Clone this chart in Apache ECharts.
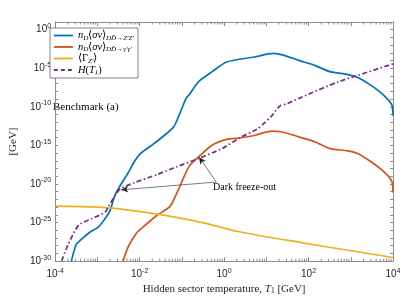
<!DOCTYPE html>
<html><head><meta charset="utf-8">
<script src="https://cdn.jsdelivr.net/npm/echarts@6/dist/echarts.min.js"></script>
<style>html,body{margin:0;padding:0;background:#fff}#c{width:407px;height:300px}</style>
</head><body><div id="c"></div>
<script>
// values are log10 of temperature T1 [GeV] and log10 of the quantity [GeV]
const zzLogT    = [-3.616,-3.501,-3.386,-3.195,-2.966,-2.811,-2.697,-2.62,-2.552,-2.437,-2.276,-2.122,-1.977,-1.662,-1.202,-1.057,-0.897,-0.828,-0.598,-0.283,0.062,0.713,1.172,1.402,1.786,2.161,2.506,2.936,3.166,3.471,3.77,3.97,4.0];
const zzLogRate = [-30,-27.85,-27.22,-26.33,-25.53,-24.43,-23.42,-22.03,-21.1,-20.0,-18.6,-17.09,-16.04,-14.77,-12.66,-10.97,-8.86,-8.44,-6.71,-5.44,-4.18,-3.54,-3.08,-3.29,-4.01,-4.65,-5.44,-5.82,-6.2,-7.18,-8.44,-9.71,-11.14];
const ggLogT    = [-2.391,-2.276,-2.085,-1.862,-1.586,-1.28,-1.126,-1.011,-0.828,-0.598,-0.283,0.062,0.407,0.713,1.133,1.402,1.786,2.161,2.506,2.936,3.166,3.471,3.77,3.97,4.0];
const ggLogRate = [-30,-28.23,-26.46,-25.32,-24.05,-22.91,-21.27,-19.84,-17.72,-16.46,-14.97,-14.22,-14.01,-13.71,-13.16,-13.29,-13.92,-14.56,-15.41,-15.70,-16.04,-17.09,-18.35,-19.62,-21.1];
const gamLogT   = [-4,-2.966,-2.207,-1.432,-0.437,0.322,1.862,4.0];
const gamLogVal = [-22.87,-23.0,-23.42,-24.05,-25.1,-26.16,-27.63,-29.53];
const hLogT     = [-3.846,-3.694,-3.54,-3.425,-3.12,-2.811,-2.736,-2.582,-2.467,-2.122,-1.586,-1.126,-0.591,-0.053,0.407,0.789,0.943,1.133,1.326,1.48,1.786,2.706,3.166,4.0];
const hLogVal   = [-29.96,-27.85,-26.16,-25.23,-24.47,-23.63,-22.91,-21.52,-20.67,-19.84,-18.77,-17.78,-16.67,-15.41,-13.92,-12.87,-12.15,-11.14,-9.87,-9.62,-8.86,-6.75,-5.91,-4.43];
// annotation: arrow tail and arrow tips (log10 T, log10 value)
const annoStart = [-0.184, -19.75];
const annoTips  = [[-2.437, -20.76], [-0.591, -16.52]];
const xDecades = [-4,-3,-2,-1,0,1,2,3];
const minorMult = [2,3,4,5,6,7,8,9];

const seriesNames = ['zz','gg','gam','hub'];
const toData = (t, v) => t.map((x, i) => [x, v[i]]);
const minorTickPos = [];
xDecades.forEach(d => minorMult.forEach(m => minorTickPos.push([d + Math.log10(m), 0])));

const serif = 'Liberation Serif';
const sans = 'Liberation Sans';
const supRich = {
  b: {fontSize: 10, fontFamily: sans, color: '#262626', lineHeight: 14},
  s: {fontSize: 7, fontFamily: sans, color: '#262626', lineHeight: 8, verticalAlign: 'top'}
};
const axisColor = '#8c8c8c';

const legendRich = {
  i: {fontFamily: serif, fontStyle: 'italic', fontSize: 10.5, color: '#000', lineHeight: 12},
  n: {fontFamily: serif, fontSize: 10.5, color: '#000', lineHeight: 12},
  s: {fontFamily: serif, fontStyle: 'italic', fontSize: 7, color: '#000', lineHeight: 6, verticalAlign: 'bottom'}
};
const legendText = {
  zz: '{i|n}{s|D}{n|⟨}{i|σv}{n|⟩}{s|DD̄→Z′Z′}',
  gg: '{i|n}{s|D}{n|⟨}{i|σv}{n|⟩}{s|DD̄→γ′γ′}',
  gam: '{n|⟨Γ}{s|Z′}{n|⟩}',
  hub: '{i|H}{n|(}{i|T}{s|1}{n|)}'
};

const mkX = (pos, labels) => ({
  type: 'value', min: -4, max: 4, interval: 1, position: pos,
  axisLine: {show: true, onZero: false, lineStyle: {color: axisColor, width: 1}},
  axisTick: {show: true, inside: true, length: 4, lineStyle: {color: axisColor}},
  splitLine: {show: false},
  axisLabel: {show: labels, margin: 6, formatter: e => (e % 2 === 0 ? '{b|10}{s|' + e + '}' : ''), rich: supRich},
  name: labels ? '{n|Hidden sector temperature, }{i|T}{s|1}{n| [GeV]}' : '',
  nameLocation: 'middle', nameGap: 19,
  nameTextStyle: {rich: {
    n: {fontFamily: serif, fontSize: 11, color: '#262626'},
    i: {fontFamily: serif, fontSize: 11, fontStyle: 'italic', color: '#262626'},
    s: {fontFamily: serif, fontSize: 7.5, color: '#262626', verticalAlign: 'bottom', lineHeight: 6}
  }}
});
const mkY = (pos, labels) => ({
  type: 'value', min: -30, max: 1, interval: 1, position: pos,
  axisLine: {show: true, onZero: false, lineStyle: {color: axisColor, width: 1}},
  axisTick: {show: true, inside: true, length: 3, lineStyle: {color: axisColor}},
  splitLine: {show: false},
  axisLabel: {show: labels, margin: 4, showMaxLabel: false, formatter: e => (e % 5 === 0 && e <= 0 ? '{b|10}{s|' + e + '}' : ''), rich: supRich},
  name: labels ? '[GeV]' : '', nameLocation: 'middle', nameGap: 28,
  nameTextStyle: {fontFamily: serif, fontSize: 11, color: '#262626'}
});

const colors = {zz: '#0072BD', gg: '#D95319', gam: '#EDB120', hub: '#7E2F8E'};
const lineS = (name, data, extra) => Object.assign({
  name, type: 'line', data, showSymbol: false, symbol: 'none', smooth: 0.25,
  xAxisIndex: 0, yAxisIndex: 0, clip: true,
  lineStyle: {color: colors[name], width: 1.7}, itemStyle: {color: colors[name]}
}, extra || {});

const chart = echarts.init(document.getElementById('c'), null, {renderer: 'canvas'});
chart.setOption({
  animation: false,
  grid: {left: 45, right: 14, top: 22, bottom: 33, containLabel: false},
  xAxis: [mkX('bottom', true), mkX('top', false)],
  yAxis: [mkY('left', true), mkY('right', false)],
  legend: {
    orient: 'vertical', left: 50, top: 28, itemWidth: 19, itemHeight: 10, itemGap: 0,
    padding: [2, 4, 2, 3], borderColor: '#333', borderWidth: 0.6, backgroundColor: '#fff',
    itemStyle: {color: 'rgba(0,0,0,0)', borderColor: 'rgba(0,0,0,0)', borderWidth: 0, opacity: 0},
    data: seriesNames.map(n => n === 'hub'
      ? {name: n, lineStyle: {type: [4, 3], width: 1.8, color: colors.hub}}
      : {name: n, lineStyle: {width: 1.8, color: colors[n]}}),
    formatter: n => legendText[n], textStyle: {rich: legendRich}
  },
  series: [
    {
      type: 'custom', silent: true, z: 1, data: minorTickPos, legendHoverLink: false,
      renderItem: (params, api) => {
        const cs = params.coordSys;
        const px = api.coord([api.value(0), -30])[0];
        const st = {stroke: axisColor, lineWidth: 1};
        return {type: 'group', children: [
          {type: 'line', shape: {x1: px, y1: cs.y + cs.height, x2: px, y2: cs.y + cs.height - 2.5}, style: st},
          {type: 'line', shape: {x1: px, y1: cs.y, x2: px, y2: cs.y + 2.5}, style: st}
        ]};
      }
    },
    lineS('zz', toData(zzLogT, zzLogRate)),
    lineS('gg', toData(ggLogT, ggLogRate)),
    lineS('gam', toData(gamLogT, gamLogVal), {smooth: 0.3}),
    lineS('hub', toData(hLogT, hLogVal), {
      lineStyle: {color: colors.hub, width: 1.8, type: [5, 2.5, 1.5, 2.5]},
      markLine: {
        silent: true, symbol: ['none', 'arrow'], symbolSize: [5, 7], label: {show: false},
        lineStyle: {color: '#222', width: 0.6, type: 'solid'},
        data: annoTips.map(t => [{coord: annoStart}, {coord: t}])
      }
    })
  ],
  graphic: [
    {type: 'text', left: 53, top: 102, style: {text: 'Benchmark (a)', fontFamily: serif, fontSize: 11, fill: '#000'}},
    {type: 'text', left: 213, top: 182, style: {text: 'Dark freeze-out', fontFamily: serif, fontSize: 10, fill: '#000'}}
  ]
});
</script></body></html>
